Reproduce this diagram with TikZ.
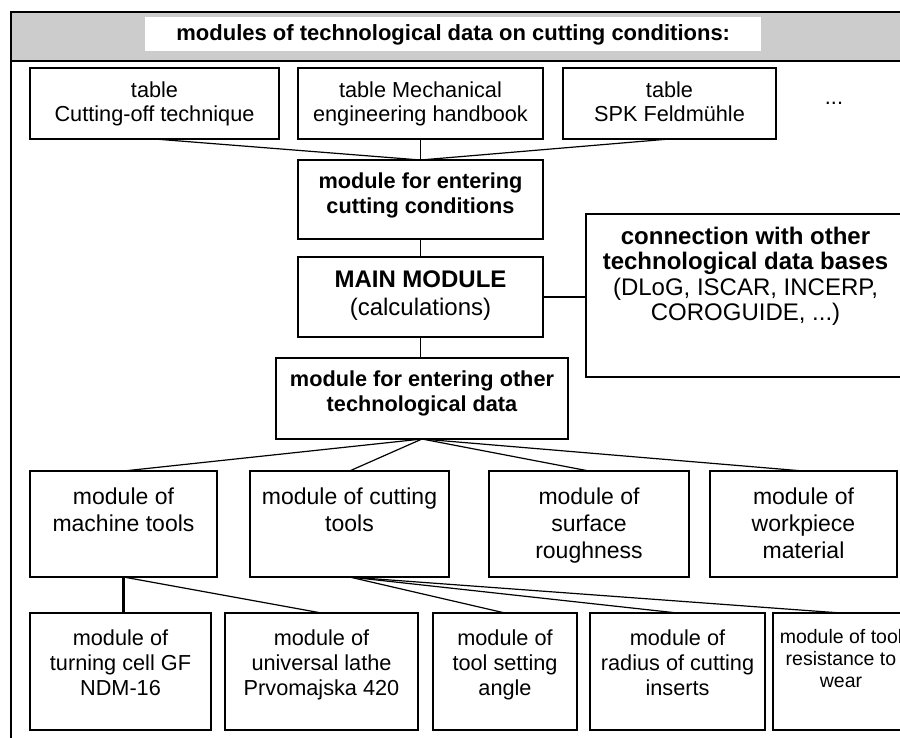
\documentclass[tikz,border=0pt]{standalone}
\usepackage{fontspec}
\setmainfont{Liberation Sans}
\definecolor{hdrgray}{RGB}{204,204,204}
\newcommand\bxtext[6]{\parbox[c][#2pt][t]{#1pt}{\centering\fontsize{#3}{#4}\selectfont\rule{0pt}{#5pt}#6}}
\begin{document}
\begin{tikzpicture}[x=1pt,y=-1pt,
  bx/.style={draw, line width=1.7pt, inner sep=0pt, outer sep=0pt, anchor=north west},
  conn/.style={line width=1.2pt},
  thickconn/.style={line width=2.8pt},
  frame/.style={line width=1.7pt}]
\useasboundingbox (0,0) rectangle (900,737);
\clip (0,0) rectangle (900,737);
% header and frame
\fill[hdrgray] (11,12) rectangle (915,61);
\draw[frame] (915,12) -- (11,12) -- (11,745);
\draw[frame] (11,61) -- (915,61);
\node[anchor=north west, inner sep=0pt, fill=white] (title) at (145,17)
  {\bxtext{616}{34}{22}{26}{23}{\bfseries modules of technological data on cutting conditions:}};
% top row
\node[bx] (b1) at (30,68) {\bxtext{249}{71}{21.7}{24}{29}{table\\Cutting-off technique}};
\node[bx] (b2) at (298,68) {\bxtext{245}{71}{21.7}{24}{29}{table Mechanical\\engineering handbook}};
\node[bx] (b3) at (563,68) {\bxtext{213}{71}{21.7}{24}{29}{table\\SPK Feldmühle}};
\node[anchor=base, inner sep=0pt, font=\fontsize{21.7}{24}\selectfont] (dots) at (834,104) {...};
% middle column
\node[bx] (ent) at (298,160) {\bxtext{245}{79}{21.7}{25}{28}{\bfseries module for entering\\cutting conditions}};
\node[bx] (main) at (298,257) {\bxtext{245}{80}{24}{28}{30}{\textbf{MAIN MODULE}\\(calculations)}};
\node[bx] (cdb) at (586,214) {\bxtext{319}{163}{24}{25.5}{30}{\textbf{connection with other}\\\textbf{technological data bases}\\(DLoG, ISCAR, INCERP,\\COROGUIDE, ...)}};
\node[bx] (oth) at (276,358) {\bxtext{292}{81}{21.7}{25}{28}{\bfseries module for entering other\\technological data}};
% second row
\node[bx] (mach) at (30,471) {\bxtext{187}{106}{23}{27}{33}{module of\\machine tools}};
\node[bx] (cut) at (250,471) {\bxtext{199}{106}{23}{27}{33}{module of cutting\\tools}};
\node[bx] (surf) at (489,471) {\bxtext{200}{106}{23}{27}{33}{module of\\surface\\roughness}};
\node[bx] (work) at (710,471) {\bxtext{187}{106}{23}{27}{33}{module of\\workpiece\\material}};
% third row
\node[bx] (turn) at (30,613) {\bxtext{181}{117}{21.7}{25}{32}{module of\\turning cell GF\\NDM-16}};
\node[bx] (lathe) at (225,613) {\bxtext{193}{117}{21.7}{25}{32}{module of\\universal lathe\\Prvomajska 420}};
\node[bx] (sett) at (433,613) {\bxtext{144}{117}{21.7}{25}{32}{module of\\tool setting\\angle}};
\node[bx] (rad) at (590,613) {\bxtext{175}{117}{21.7}{25}{32}{module of\\radius of cutting\\inserts}};
\node[bx] (res) at (773,613) {\bxtext{136}{117}{19.5}{22}{30}{module of tool\\resistance to\\wear}};
% connectors
\draw[conn] (b1.south) -- (ent.north);
\draw[conn] (b2.south) -- (ent.north);
\draw[conn] (b3.south) -- (ent.north);
\draw[conn] (ent.south) -- (main.north);
\draw[thickconn] (main.east) -- (cdb.west |- main.east);
\draw[conn] (main.south) -- (oth.north -| main.south);
\draw[conn] (oth.south) -- (mach.north);
\draw[conn] (oth.south) -- (cut.north);
\draw[conn] (oth.south) -- (surf.north);
\draw[conn] (oth.south) -- (work.north);
\draw[thickconn] (mach.south) -- (mach.south |- turn.north);
\draw[conn] (mach.south) -- (lathe.north);
\draw[conn] (cut.south) -- (sett.north);
\draw[conn] (cut.south) -- (rad.north);
\draw[conn] (cut.south) -- (res.north);
\end{tikzpicture}
\end{document}
